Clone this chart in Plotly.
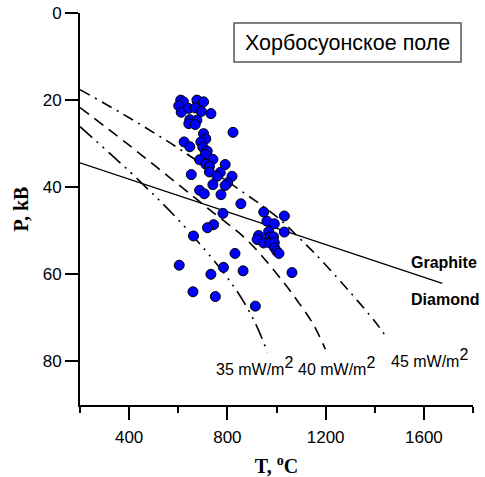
import plotly.graph_objects as go

# Sample points: temperature (°C) and pressure (kB)
T_samples = [610, 621, 602, 612, 642, 676, 703, 669, 694, 733,
             647, 676, 643, 669, 823, 703, 712, 692, 624, 647,
             700, 718, 710, 687, 741, 791, 712, 727, 653, 727,
             771, 819, 758, 801, 791, 741, 687, 706, 774, 855,
             782, 744, 719, 662, 948, 1032, 961, 991, 1032, 968,
             927, 921, 972, 988, 948, 973, 991, 992, 1001, 1010,
             831, 864, 1063, 604, 784, 733, 660, 751, 914]
P_samples = [20.0, 20.4, 21.3, 22.8, 21.9, 20.0, 20.4, 21.8, 22.6, 23.1,
             24.5, 24.6, 25.4, 25.6, 27.4, 27.7, 28.9, 29.6, 29.6, 30.7,
             30.8, 31.7, 32.5, 33.7, 33.6, 34.8, 34.7, 35.2, 37.1, 36.5,
             36.6, 37.5, 37.5, 39.0, 39.6, 39.4, 40.7, 41.5, 41.7, 43.8,
             46.0, 48.6, 49.3, 51.2, 45.7, 46.6, 47.8, 48.4, 50.3, 50.2,
             51.1, 52.0, 51.4, 51.4, 52.8, 52.8, 52.7, 53.9, 54.7, 55.2,
             55.2, 59.2, 59.6, 57.9, 58.4, 60.0, 64.0, 65.1, 67.3]

# Graphite–diamond equilibrium line
T_gd = [200, 1675]
P_gd = [34.4, 62.1]

# Geotherms
T_35 = [200, 445, 636, 816, 906, 963]
P_35 = [26.1, 38.7, 49.7, 62.0, 70.3, 77.9]
T_40 = [200, 392, 559, 722, 885, 1028, 1089, 1148, 1199]
P_40 = [21.7, 30.0, 37.5, 44.9, 52.4, 61.8, 66.4, 71.3, 77.2]
T_45 = [200, 372, 518, 588, 865, 999, 1122, 1183, 1295, 1403, 1451]
P_45 = [17.6, 23.1, 28.1, 30.6, 41.2, 46.7, 53.3, 56.8, 63.8, 71.0, 74.7]

x_ticks = [400, 800, 1200, 1600]
y_ticks = [0, 20, 40, 60, 80]

SANS = "Arial, Liberation Sans, sans-serif"
SERIF = "Times New Roman, Liberation Serif, serif"

fig = go.Figure()
fig.add_trace(go.Scatter(x=T_gd, y=P_gd, mode="lines",
                         line=dict(color="black", width=1.3), hoverinfo="skip"))
fig.add_trace(go.Scatter(x=T_45, y=P_45, mode="lines", line_shape="spline",
                         line=dict(color="black", width=1.6, dash="11px,6px,2px,6px")))
fig.add_trace(go.Scatter(x=T_40, y=P_40, mode="lines", line_shape="spline",
                         line=dict(color="black", width=1.6, dash="11px,7px")))
fig.add_trace(go.Scatter(x=T_35, y=P_35, mode="lines", line_shape="spline",
                         line=dict(color="black", width=1.6, dash="16px,6px,2px,6px,2px,6px")))
fig.add_trace(go.Scatter(x=T_samples, y=P_samples, mode="markers",
                         marker=dict(size=10, color="#0000FF",
                                     line=dict(color="black", width=1))))

sq = "<sup><span style='font-size:16px'>2</span></sup>"
ann_font = dict(family=SANS, size=16, color="black")
fig.add_annotation(x=745, y=81.1, xref="x", yref="y", text="35 mW/m" + sq,
                   showarrow=False, xanchor="left", yanchor="middle", font=ann_font)
fig.add_annotation(x=1080, y=81.1, xref="x", yref="y", text="40 mW/m" + sq,
                   showarrow=False, xanchor="left", yanchor="middle", font=ann_font)
fig.add_annotation(x=1458, y=79.2, xref="x", yref="y", text="45 mW/m" + sq,
                   showarrow=False, xanchor="left", yanchor="middle", font=ann_font)
fig.add_annotation(x=1540, y=57.2, xref="x", yref="y", text="Graphite",
                   showarrow=False, xanchor="left", yanchor="middle",
                   font=dict(family=SANS, size=16, color="black", weight="bold"))
fig.add_annotation(x=1540, y=65.7, xref="x", yref="y", text="Diamond",
                   showarrow=False, xanchor="left", yanchor="middle",
                   font=dict(family=SANS, size=16, color="black", weight="bold"))

# Title box
fig.add_shape(type="rect", xref="paper", yref="paper",
              x0=0.392, x1=0.9695, y0=0.875, y1=0.9745,
              line=dict(color="#555555", width=1.5), fillcolor="white")
fig.add_annotation(x=0.6807, y=0.9247, xref="paper", yref="paper",
                   text="Хорбосуонское поле", showarrow=False,
                   xanchor="center", yanchor="middle",
                   font=dict(family=SANS, size=21.5, color="black"))

fig.update_layout(
    width=485, height=477,
    margin=dict(l=80, r=12, t=13, b=72, autoexpand=False),
    paper_bgcolor="white", plot_bgcolor="white",
    showlegend=False,
)
fig.update_xaxes(range=[200, 1800], tickvals=x_ticks, ticks="outside",
                 ticklen=13, tickwidth=2, tickcolor="black", automargin=False,
                 showline=True, linecolor="black", linewidth=2,
                 showgrid=False, zeroline=False, ticklabelstandoff=3,
                 tickfont=dict(family=SANS, size=17, color="black"),
                 minor=dict(dtick=200, tick0=200, ticks="outside", ticklen=6,
                            tickwidth=2, tickcolor="black", showgrid=False),
                 title=dict(text="T, <sup>o</sup>C", standoff=14,
                            font=dict(family=SERIF, size=20, color="black",
                                      weight="bold")))
fig.update_yaxes(range=[90, 0], tickvals=y_ticks, ticks="outside",
                 ticklen=13, tickwidth=2, tickcolor="black", automargin=False,
                 showline=True, linecolor="black", linewidth=2,
                 showgrid=False, zeroline=False,
                 tickfont=dict(family=SANS, size=17, color="black"),
                 title=dict(text="P, kB", standoff=9,
                            font=dict(family=SERIF, size=20, color="black",
                                      weight="bold")))

# Remove the default page margin so the figure sits at the window's top-left
fig.write_html("out.html", config={"displayModeBar": False},
               post_script="document.body.style.margin='0';")
